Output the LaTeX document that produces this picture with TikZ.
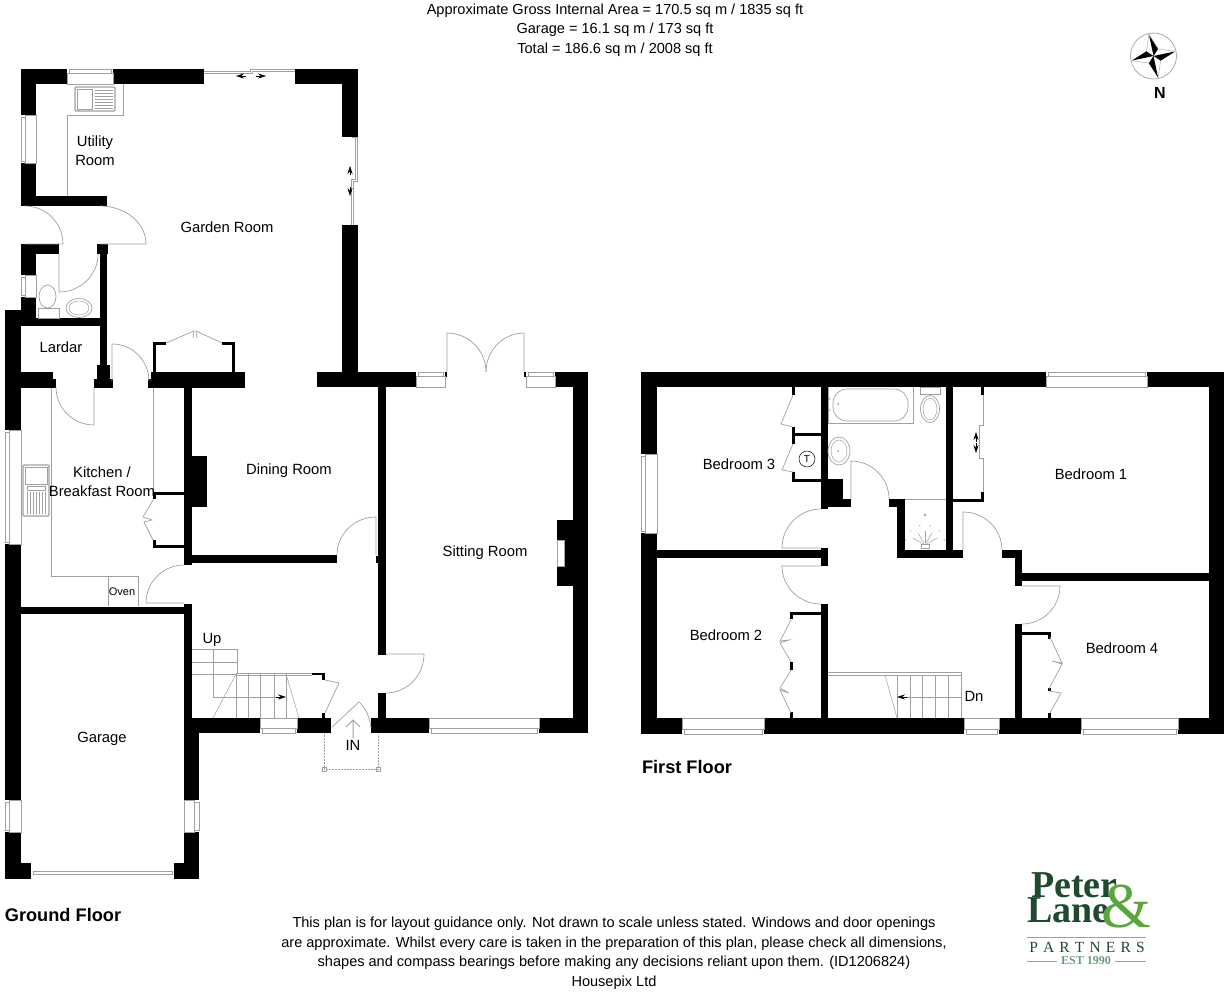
\documentclass[tikz,border=0pt]{standalone}
\usepackage{fontspec}
\setmainfont{Liberation Sans}
\usepackage{xcolor}
\usetikzlibrary{arrows.meta}
\definecolor{fixgrey}{HTML}{A0A0A0}
\definecolor{peterdark}{HTML}{1F4A2E}
\definecolor{landgreen}{HTML}{5BA63C}
\definecolor{estgreen}{HTML}{6F9A78}
\tikzset{
  fixline/.style={fixgrey, line width=0.7pt},
  thinline/.style={fixgrey, line width=0.5pt},
  roomlabel/.style={font=\fontsize{14.8}{16}\selectfont, align=center, inner sep=0pt},
  notelabel/.style={font=\fontsize{14.55}{19.5}\selectfont, align=center, inner sep=0pt},
  floorlabel/.style={font=\fontsize{18.2}{20}\selectfont\bfseries, inner sep=0pt},
  logotext/.style={font=\bfseries, inner sep=0pt, peterdark}
}
\newcommand{\doorswing}[6]{\draw[fixline] (#1,#2) -- (#3,#4) .. controls ({#3+0.5523*(#5-#1)},{#4+0.5523*(#6-#2)}) and ({#5+0.5523*(#3-#1)},{#6+0.5523*(#4-#2)}) .. (#5,#6);}
\newcommand{\hwin}[4]{\draw[fixline] (#1,#3) rectangle (#2,{#4+0.3*(#3-#4)});
  \draw[fixline] ({#1+2},{#4+0.3*(#3-#4)}) rectangle ({#2-2},#4);}
\newcommand{\vwin}[4]{\draw[fixline] (#3,#1) rectangle ({#4+0.3*(#3-#4)},#2);
  \draw[fixline] ({#4+0.3*(#3-#4)},{#1+2}) rectangle (#4,{#2-2});}
\begin{document}
\begin{tikzpicture}[x=1pt,y=-1pt,>={Stealth[length=8pt,width=5pt]}]
  \useasboundingbox (0,0) rectangle (1232,994);
  % ground floor walls
  \foreach \xa/\ya/\xb/\yb in {
    21/69/67/84, 113/69/204/84, 295/69/358/84,
    342/69/358/137, 342/225/358/372, 317/372/416/387,
    21/69/36/115, 21/163/36/206, 21/196/107/206,
    21/244/36/275, 21/244/59/254, 21/297/36/326, 21/318/107/326,
    5/310/21/430, 5/544/21/800, 5/832/21/879, 5/863/31/879,
    100/244/107/372, 97/244/108/254, 97/365/110/379, 94/379/113/388,
    21/372/53/379, 21/379/56/388, 151/372/245/379, 148/379/245/388,
    153/342/156/372, 153/342/166/345, 232/342/235/372, 222/342/235/345,
    184/388/192/565, 184/604/192/718, 192/456/207/507,
    192/555/337/563, 376/556/386/563, 378/387/386/655, 378/693/386/733,
    21/607/184/614, 184/718/199/800, 184/832/199/879, 174/863/199/879,
    192/718/260/733, 297/718/331/733, 371/718/429/733, 539/718/588/733,
    573/372/588/733, 555/372/588/387, 557/520/573/586,
    153/492/184/494.5, 153/492/156/499, 153/545/184/548, 153/540/156/548,
    445/372/447/377, 524/372/526/377,
    312/673/325/675, 322/673/325/680, 322/713/325/718}
    \fill[black] (\xa,\ya) rectangle (\xb,\yb);
  \fill[white] (557,540) rectangle (564,566);
  \draw[fixline] (557,540) rectangle (564,566);
  % first floor walls
  \foreach \xa/\ya/\xb/\yb in {
    641/372/1046/387, 1147/372/1224/387, 1209/372/1224/734,
    641/372/657/454, 641/533/657/734,
    641/718/682/734, 764/718/964/734, 999/718/1081/734, 1178/718/1224/734,
    821/387/828/509, 828/479/843/507, 828/499/851/507,
    821/548/828/566, 657/550/821/558, 821/604/828/718,
    889/499/905/507, 897/499/905/558, 897/550/963/558, 946/387/953/550,
    1002/550/1022/558, 1015/550/1022/586, 1022/573/1209/581, 1015/624/1022/718,
    792/387/795/395, 792/427/795/444, 792/433/821/435.5, 792/472/795/481, 792/479/821/481.5,
    953/499/984/502, 981/387/984/395, 981/492/984/502,
    1022/632/1050/634.5, 1048/632/1050.5/639, 1048/713/1051/718, 1047.5/688/1050.5/691,
    790/612/821/614.5, 790/612/793/619, 790/662/792.5/670, 790/712/792.5/718}
    \fill[black] (\xa,\ya) rectangle (\xb,\yb);
  % windows
  \hwin{67}{113}{84}{69}
  \vwin{115}{163}{36}{21}
  \vwin{275}{297}{36}{21}
  \vwin{430}{544}{21}{5}
  \vwin{800}{832}{21}{5}
  \vwin{800}{832}{184}{199}
  \hwin{260}{297}{718}{733}
  \hwin{429}{539}{718}{733}
  \hwin{416}{445}{387}{372}
  \hwin{526}{555}{387}{372}
  \vwin{454}{533}{657}{641}
  \hwin{1046}{1147}{387}{372}
  \hwin{682}{764}{718}{734}
  \hwin{964}{999}{718}{734}
  \hwin{1081}{1178}{718}{734}
  % sliding doors
  \draw[fixline] (204,71)--(250,71)--(250,69)--(295,69) (204,73)--(252,73)--(252,71)--(295,71);
  \draw[black,<-] (236,76)--(246,76);
  \draw[black,->] (256,76)--(266,76);
  \draw[fixline] (355,137)--(357,137)--(357,181)--(353,181)--(353,225) (352,137)--(355,137)--(355,179)--(351,179)--(351,225);
  \draw[black,->] (350,175)--(350,166);
  \draw[black,->] (350,187)--(350,196);
  \draw[fixline] (983,395)--(983,425)--(979,425)--(979,458)--(983,458)--(983,492);
  \draw[black,->] (976,442)--(976,432);
  \draw[black,->] (976,443)--(976,453);
  \draw[fixline,line width=1pt] (33,871) rectangle (172,874);
  % doors
  \doorswing{25}{244}{63}{244}{25}{206}
  \doorswing{100}{244}{146}{244}{100}{206}
  \doorswing{59}{254}{59}{292}{98}{254}
  \doorswing{94}{387}{94}{425}{56}{387}
  \doorswing{112}{381}{112}{344}{149}{381}
  \doorswing{376}{555}{376}{517}{337}{555}
  \doorswing{184}{603}{146}{603}{184}{565}
  \doorswing{386}{654}{424}{654}{386}{693}
  \doorswing{447}{372}{447}{333}{486}{372}
  \doorswing{524}{372}{524}{333}{486}{372}
  \doorswing{821}{548}{782}{548}{821}{509}
  \doorswing{821}{566}{782}{566}{821}{604}
  \doorswing{851}{499}{851}{461}{889}{499}
  \doorswing{963}{550}{963}{512}{1002}{550}
  \doorswing{1022}{586}{1060}{586}{1022}{624}
  \draw[fixline] (332,727)--(359,702) .. controls (366,708) and (370,718) .. (371,728);
  % folding cupboard doors
  \draw[fixline] (166,343)--(194,331)--(193,338) (222,343)--(196,331)--(197,338);
  \draw[fixline] (153,500)--(143,517)--(152,520)--(144,522)--(153,540);
  \draw[fixline] (325,680)--(339,683)--(325,713);
  \draw[fixline] (793,395)--(781,424)--(793,427);
  \draw[fixline] (793,444)--(782,470)--(793,472);
  \draw[fixline] (791,620)--(780,641)--(789,640)--(780,643)--(791,662);
  \draw[fixline] (791,670)--(780,688)--(789,693)--(780,690)--(791,713);
  \draw[fixline] (1050,637)--(1062,663)--(1052,661)--(1062,664)--(1049,689) (1049,691)--(1061,693)--(1050,713);
  % porch
  \draw[thinline,densely dotted] (324,733)--(324,769)--(378,769)--(378,733);
  \draw[thinline] (322,767) rectangle (326,771) (376,767) rectangle (380,771);
  \draw[fixgrey,line width=1pt] (353,738)--(353,720) (346,727)--(353,720)--(360,727);
  % fittings
  \draw[thinline] (123,84)--(123,115)--(67,115) (67,115)--(67,196);
  \draw[fixline,line width=1.2pt,rounded corners=1pt] (75,87) rectangle (115,111);
  \draw[fixline] (77,89) rectangle (92,109);
  \foreach \yy in {90,93,...,108} \draw[thinline] (95,\yy)--(113,\yy);
  \draw[thinline] (51,388)--(51,576)--(138,576)--(138,606) (108,576)--(108,606);
  \draw[thinline] (153,388)--(153,492);
  \draw[fixline,line width=1.2pt,rounded corners=1pt] (23,465) rectangle (49,516);
  \draw[thinline] (25,467) rectangle (47,484) (27,486) rectangle (45,490);
  \foreach \xx in {27,30,...,45} \draw[thinline] (\xx,492)--(\xx,514);
  \draw[fixline] (47.5,296.5) ellipse (8.5 and 11.5);
  \draw[thinline] (38,308) rectangle (59,318);
  \draw[fixline] (79,308) ellipse (13 and 9.5);
  \draw[thinline] (79,308) ellipse (10 and 7);
  \draw[fixline] (828,387) -- (828,423) -- (913,423) -- (913,387);
  \draw[fixline,rounded corners=14pt] (833,389) rectangle (908,421);
  \fill[fixgrey] (829,399) circle (1) (829,410) circle (1) (838,404) circle (1);
  \draw[fixline] (839,451) ellipse (11 and 14);
  \draw[thinline] (839,451) ellipse (8 and 11);
  \fill[fixgrey] (838,451) circle (1);
  \draw[thinline] (920,387) rectangle (940,394);
  \draw[fixline] (930,409) ellipse (9.5 and 13.5);
  \draw[thinline] (930,409) ellipse (7 and 11);
  \draw[thinline] (905,499)--(946,499);
  \foreach \ang in {30,60,90,120,150} \draw[thinline] ({925+2*cos(\ang)},{545-2*sin(\ang)})--({925+14*cos(\ang)},{545-14*sin(\ang)});
  \foreach \ang in {15,45,75,105,135,165} \fill[fixgrey] ({925+20*cos(\ang)},{545-20*sin(\ang)}) circle (0.7);
  \fill[fixgrey] (925,515) circle (1.3);
  \draw[thinline] (921,548) rectangle (929,544);
  % stairs
  \draw[thinline] (192,649)--(237,649)--(237,674) (192,662)--(237,662) (192,674)--(237,674);
  \draw[thinline] (236,673)--(312,673) (237,675)--(312,675);
  \draw[thinline] (213,649)--(213,697)--(278,697);
  \draw[black,->] (276,697)--(286,697);
  \draw[thinline] (213,718)--(236,674) (286,674)--(299,718);
  \foreach \xx in {236,248,260,274,286} \draw[thinline] (\xx,674)--(\xx,718);
  \draw[thinline] (828,672)--(961,672) (828,675)--(961,675) (961,672)--(961,718);
  \draw[thinline] (885,675)--(897,718);
  \foreach \xx in {897,910,922,935,948} \draw[thinline] (\xx,675)--(\xx,718);
  \draw[thinline] (961,697)--(905,697);
  \draw[black,->] (907,697)--(897,697);
  % compass
  \begin{scope}[shift={(1153.5,56)},rotate=12]
    \draw[fixline] (0,0) circle (23);
    \foreach \ang in {0,90,180,270} {
      \fill[black,rotate=\ang] (0,0)--(0,-22)--(6,-6)--cycle;
      \draw[fixgrey,line width=0.4pt,rotate=\ang] (0,-22)--(-6,-6)--(-22,0);
    }
  \end{scope}
  % room labels
  \node[roomlabel] (utility) at (95,151) {Utility\\[3pt]Room};
  \node[roomlabel] (garden) at (227,227) {Garden Room};
  \node[roomlabel] (lardar) at (61,347) {Lardar};
  \node[roomlabel] (kitchen) at (102,482) {Kitchen /\\[3pt]Breakfast Room};
  \node[roomlabel] (dining) at (289,471) {Dining Room};
  \node[roomlabel] (sitting) at (485,553) {Sitting Room};
  \node[roomlabel] (garage) at (102,739) {Garage};
  \node[roomlabel,font=\fontsize{11}{12}\selectfont] (oven) at (122,592) {Oven};
  \node[roomlabel] (up) at (212,640) {Up};
  \node[roomlabel] (in) at (353,745) {IN};
  \node[roomlabel] (bedthree) at (739,464) {Bedroom 3};
  \node[roomlabel] (bedtwo) at (726,635) {Bedroom 2};
  \node[roomlabel] (bedone) at (1091,474) {Bedroom 1};
  \node[roomlabel] (bedfour) at (1122,648) {Bedroom 4};
  \node[roomlabel] (down) at (974,696) {Dn};
  \node[draw=black,line width=0.5pt,circle,minimum size=16pt,inner sep=0pt,font=\fontsize{10}{11}\selectfont] (tank) at (807,459) {T};
  \node[floorlabel] (ground) at (63,915) {Ground Floor};
  \node[floorlabel] (first) at (687,767) {First Floor};
  \node[font=\fontsize{16}{17}\selectfont\bfseries,inner sep=0pt] (north) at (1160,93) {N};
  % notes
  \node[notelabel] (areas) at (615,30) {Approximate Gross Internal Area = 170.5 sq m / 1835 sq ft\\Garage = 16.1 sq m / 173 sq ft\\Total = 186.6 sq m / 2008 sq ft};
  \node[notelabel] (notes) at (614,953) {This plan is for layout guidance only. Not drawn to scale unless stated. Windows and door openings\\are approximate. Whilst every care is taken in the preparation of this plan, please check all dimensions,\\shapes and compass bearings before making any decisions reliant upon them. (ID1206824)\\Housepix Ltd};
  % logo
  \node[logotext,font=\fontspec{Liberation Serif}\bfseries\fontsize{38}{38}\selectfont,anchor=base west] (peter) at (1031,897) {Peter};
  \node[logotext,font=\fontspec{Liberation Serif}\bfseries\fontsize{38}{38}\selectfont,anchor=base west] (lane) at (1027,922) {Lane};
  \node[logotext,landgreen,font=\fontspec{Liberation Serif}\fontsize{64}{64}\selectfont,anchor=base west] (amp) at (1101,927) {\&};
  \draw[fixgrey,line width=0.7pt] (1027,937)--(1146,937);
  \node[logotext,font=\fontspec{Liberation Serif}\fontsize{15.5}{16}\selectfont] (partners) at (1087,947) {P\,\,A\,\,R\,\,T\,\,N\,\,E\,\,R\,\,S};
  \node[logotext,estgreen,font=\fontspec{Liberation Serif}\bfseries\fontsize{12}{12}\selectfont] (est) at (1086,961) {EST 1990};
  \draw[fixgrey,line width=0.8pt] (1027,961)--(1057,961) (1115,961)--(1146,961);
\end{tikzpicture}
\end{document}
